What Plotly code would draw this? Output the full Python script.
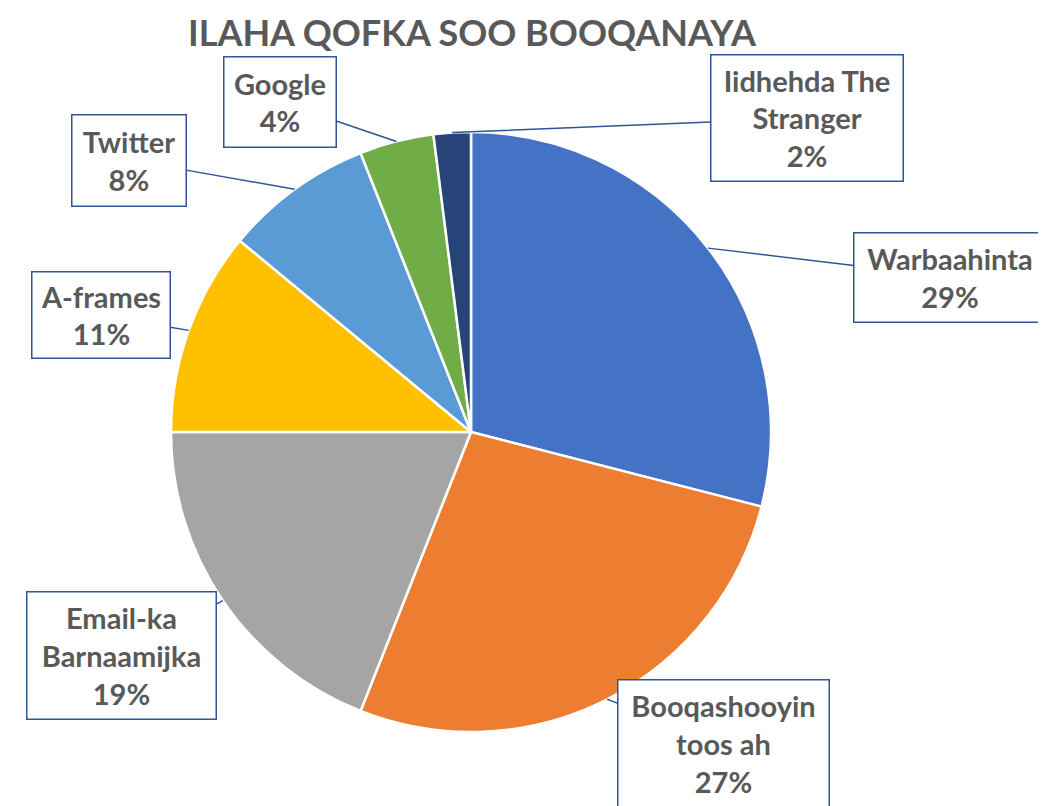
import math
import plotly.graph_objects as go

labels = ["Warbaahinta", "Booqashooyin toos ah", "Email-ka Barnaamijka", "A-frames",
          "Twitter", "Google", "Iidhehda The Stranger"]
label_text = ["Warbaahinta", "Booqashooyin<br>toos ah", "Email-ka<br>Barnaamijka", "A-frames",
              "Twitter", "Google", "Iidhehda The<br>Stranger"]
values = [29, 27, 19, 11, 8, 4, 2]
colors = ["#4472C4", "#ED7D31", "#A5A5A5", "#FFC000", "#5B9BD5", "#70AD47", "#264478"]

OFF = 8  # page body margin offset
# label box layout: centre (px, page coords) and size (px)
box_centers = [(950, 277), (723, 743), (121, 655), (101, 315), (129, 160), (280, 102), (807, 118)]
box_sizes = [(189, 86), (208, 124), (186, 124), (135, 83), (111, 88), (109, 87), (189, 123)]

W, H = 1046, 806
cx, cy, R = 471 - OFF, 432 - OFF, 300

fig = go.Figure()
fig.add_trace(go.Pie(
    labels=labels, values=values, sort=False, direction="clockwise", rotation=0,
    marker=dict(colors=colors, line=dict(color="white", width=2.5)),
    textinfo="none", hoverinfo="label+percent", showlegend=False,
    domain=dict(x=[(cx - R) / W, (cx + R) / W], y=[1 - (cy + R) / H, 1 - (cy - R) / H]),
))

total = sum(values)
cum = 0
annotations = []
for lab, v, (bx, by), (bw, bh) in zip(label_text, values, box_centers, box_sizes):
    bx -= OFF
    by -= OFF
    mid = (cum + v / 2) / total * 2 * math.pi
    cum += v
    tx = cx + R * math.sin(mid)
    ty = cy - R * math.cos(mid)
    pct = round(v / total * 100)
    txt = "<br>".join(f"<b>{p}</b>" for p in f"{lab}<br>{pct}%".split("<br>"))
    annotations.append(dict(
        x=tx / W, y=1 - ty / H, xref="paper", yref="paper",
        ax=bx - tx, ay=by - ty, axref="pixel", ayref="pixel",
        text=txt, showarrow=True, arrowhead=0, arrowwidth=1.5,
        arrowcolor="#2F5597", standoff=0, startstandoff=0,
        bordercolor="#2F5597", borderwidth=1.5, bgcolor="white",
        width=bw, height=bh, align="center", valign="middle",
        font=dict(family="Lato, 'Open Sans', sans-serif", size=29, color="#595959"),
        xanchor="center", yanchor="middle",
    ))

annotations.append(dict(
    x=(472 - OFF) / W, y=1, xref="paper", yref="paper", showarrow=False,
    text="<b>ILAHA QOFKA SOO BOOQANAYA</b>", xanchor="center", yanchor="top",
    font=dict(family="Lato, 'Open Sans', sans-serif", size=36, color="#595959"),
))

fig.update_layout(
    width=W, height=H, margin=dict(l=0, r=0, t=0, b=0),
    paper_bgcolor="white", plot_bgcolor="white",
    annotations=annotations,
)

fig.write_html("out.html")
